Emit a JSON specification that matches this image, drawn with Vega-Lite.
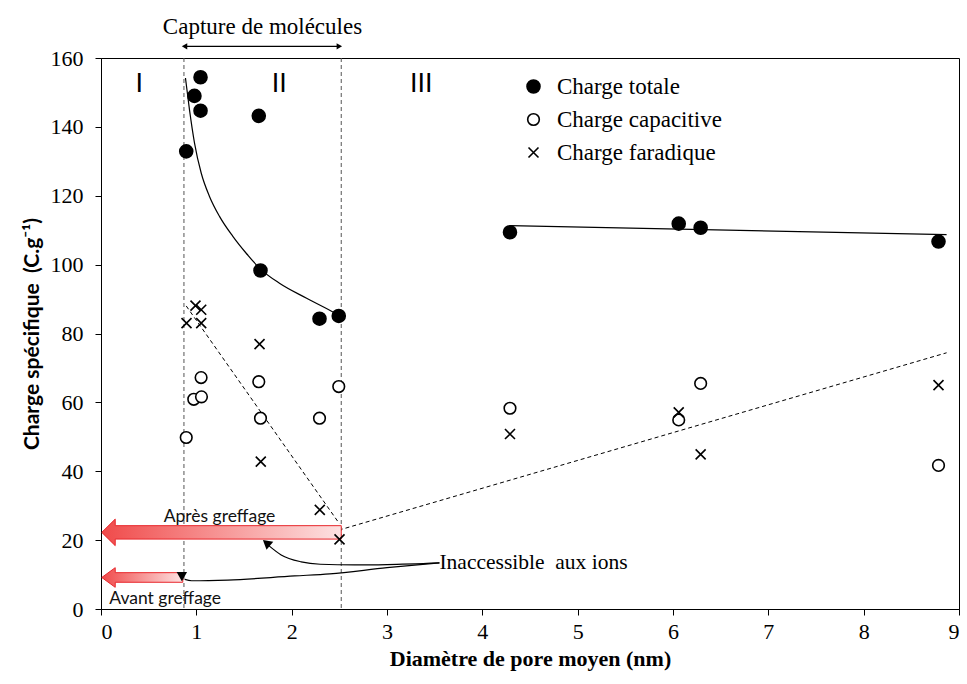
{
  "$schema": "https://vega.github.io/schema/vega-lite/v6.json",
  "width": 858,
  "height": 551,
  "autosize": {"type": "none"},
  "padding": {"left": 101, "top": 58, "right": 8, "bottom": 75},
  "background": "white",
  "config": {
    "view": {"stroke": "black", "strokeWidth": 1},
    "axis": {"grid": false, "domainColor": "black", "tickColor": "black", "labelColor": "black", "titleColor": "black", "tickSize": 6}
  },
  "datasets": {
    "points": [
      {"serie": "Charge totale", "d": 0.894, "q": 132.9},
      {"serie": "Charge totale", "d": 0.98, "q": 149.0},
      {"serie": "Charge totale", "d": 1.044, "q": 154.4},
      {"serie": "Charge totale", "d": 1.044, "q": 144.7},
      {"serie": "Charge totale", "d": 1.655, "q": 143.2},
      {"serie": "Charge totale", "d": 1.673, "q": 98.3},
      {"serie": "Charge totale", "d": 2.292, "q": 84.3},
      {"serie": "Charge totale", "d": 2.494, "q": 85.1},
      {"serie": "Charge totale", "d": 4.29, "q": 109.4},
      {"serie": "Charge totale", "d": 6.06, "q": 111.9},
      {"serie": "Charge totale", "d": 6.29, "q": 110.7},
      {"serie": "Charge totale", "d": 8.785, "q": 106.7},
      {"serie": "Charge capacitive", "d": 1.05, "q": 67.2},
      {"serie": "Charge capacitive", "d": 0.973, "q": 60.9},
      {"serie": "Charge capacitive", "d": 1.054, "q": 61.6},
      {"serie": "Charge capacitive", "d": 0.894, "q": 49.8},
      {"serie": "Charge capacitive", "d": 1.655, "q": 66.0},
      {"serie": "Charge capacitive", "d": 1.673, "q": 55.4},
      {"serie": "Charge capacitive", "d": 2.292, "q": 55.4},
      {"serie": "Charge capacitive", "d": 2.494, "q": 64.6},
      {"serie": "Charge capacitive", "d": 4.29, "q": 58.3},
      {"serie": "Charge capacitive", "d": 6.29, "q": 65.5},
      {"serie": "Charge capacitive", "d": 6.06, "q": 54.9},
      {"serie": "Charge capacitive", "d": 8.785, "q": 41.7},
      {"serie": "Charge faradique", "d": 0.991, "q": 88.1},
      {"serie": "Charge faradique", "d": 1.051, "q": 86.9},
      {"serie": "Charge faradique", "d": 0.897, "q": 83.0},
      {"serie": "Charge faradique", "d": 1.051, "q": 83.0},
      {"serie": "Charge faradique", "d": 1.663, "q": 76.9},
      {"serie": "Charge faradique", "d": 1.676, "q": 42.8},
      {"serie": "Charge faradique", "d": 2.295, "q": 28.8},
      {"serie": "Charge faradique", "d": 2.502, "q": 20.2},
      {"serie": "Charge faradique", "d": 4.29, "q": 50.8},
      {"serie": "Charge faradique", "d": 6.06, "q": 57.1},
      {"serie": "Charge faradique", "d": 6.29, "q": 44.9},
      {"serie": "Charge faradique", "d": 8.785, "q": 65.0}
    ],
    "vlines": [{"d": 0.87}, {"d": 2.52}],
    "solidTrends": [
      {"id": "c2", "d": 0.886, "q": 154.2},
      {"id": "c2", "d": 0.928, "q": 145.0},
      {"id": "c2", "d": 0.981, "q": 135.3},
      {"id": "c2", "d": 1.051, "q": 126.6},
      {"id": "c2", "d": 1.138, "q": 119.8},
      {"id": "c2", "d": 1.243, "q": 114.0},
      {"id": "c2", "d": 1.383, "q": 108.2},
      {"id": "c2", "d": 1.523, "q": 103.3},
      {"id": "c2", "d": 1.673, "q": 98.7},
      {"id": "c2", "d": 1.872, "q": 94.6},
      {"id": "c2", "d": 2.152, "q": 90.3},
      {"id": "c2", "d": 2.449, "q": 86.0},
      {"id": "c2", "d": 2.494, "q": 85.3},
      {"id": "c3", "d": 4.29, "q": 111.3},
      {"id": "c3", "d": 8.87, "q": 108.7}
    ],
    "dashedTrends": [
      {"id": "f2", "d": 0.894, "q": 88.0},
      {"id": "f2", "d": 2.5, "q": 24.8},
      {"id": "f3", "d": 2.494, "q": 22.9},
      {"id": "f3", "d": 8.87, "q": 74.4}
    ],
    "redArrows": [
      {"a": "apres", "d": 0.008, "lo": 22.25, "hi": 22.25},
      {"a": "apres", "d": 0.149, "lo": 18.4, "hi": 26.1},
      {"a": "apres", "d": 0.1495, "lo": 20.3, "hi": 24.2},
      {"a": "apres", "d": 2.52, "lo": 20.3, "hi": 24.2},
      {"a": "avant", "d": 0.008, "lo": 9.15, "hi": 9.15},
      {"a": "avant", "d": 0.149, "lo": 6.3, "hi": 12.0},
      {"a": "avant", "d": 0.1495, "lo": 7.76, "hi": 10.55},
      {"a": "avant", "d": 0.858, "lo": 7.76, "hi": 10.55}
    ],
    "blackArrows": [
      {"a": "k1", "d": 3.55, "q": 13.4},
      {"a": "k1", "d": 3.0, "q": 12.9},
      {"a": "k1", "d": 2.66, "q": 12.8},
      {"a": "k1", "d": 2.3, "q": 13.0},
      {"a": "k1", "d": 2.1, "q": 13.7},
      {"a": "k1", "d": 1.89, "q": 15.7},
      {"a": "k1", "d": 1.76, "q": 18.4},
      {"a": "k2", "d": 3.55, "q": 13.4},
      {"a": "k2", "d": 3.0, "q": 12.0},
      {"a": "k2", "d": 2.4, "q": 10.2},
      {"a": "k2", "d": 2.03, "q": 9.6},
      {"a": "k2", "d": 1.33, "q": 8.4},
      {"a": "k2", "d": 0.95, "q": 8.2},
      {"a": "k2", "d": 0.88, "q": 8.6}
    ],
    "heads": [
      {"a": "k1", "d": 1.735, "q": 19.2},
      {"a": "k2", "d": 0.848, "q": 9.4}
    ],
    "capture": [{"d": 0.876, "d2": 2.5, "q": 163.4, "label": "Capture de molécules", "dc": 1.694, "qt": 169.1}],
    "regions": [
      {"label": "I", "d": 0.4, "q": 152.5},
      {"label": "II", "d": 1.87, "q": 152.5},
      {"label": "III", "d": 3.36, "q": 152.5}
    ],
    "notesSans": [
      {"label": "Après greffage", "d": 1.243, "q": 26.8},
      {"label": "Avant greffage", "d": 0.673, "q": 2.9}
    ],
    "notesSerif": [
      {"label": "Inaccessible\u00a0 aux ions", "d": 3.55, "q": 13.4}
    ]
  },
  "encoding": {
    "x": {"field": "d", "type": "quantitative", "scale": {"domain": [0, 9], "nice": false, "padding": 0},
      "axis": {"values": [0,1,2,3,4,5,6,7,8,9], "format": "d", "title": "Diamètre de pore moyen (nm)",
        "labelFont": "Times New Roman", "labelFontSize": 22, "labelPadding": 6,
        "titleFont": "Times New Roman", "titleFontSize": 22, "titleFontWeight": "bold", "titlePadding": 6}},
    "y": {"field": "q", "type": "quantitative", "scale": {"domain": [0, 160], "nice": false, "padding": 0},
      "axis": {"values": [0,20,40,60,80,100,120,140,160], "format": "d", "title": "Charge spécifique\u00a0 (C.g⁻¹)",
        "labelFont": "serif", "labelFontSize": 22, "labelPadding": 12,
        "titleFont": "Lato", "titleFontSize": 21, "titleFontWeight": "bold", "titlePadding": 8}}
  },
  "layer": [
    {
      "data": {"name": "vlines"},
      "mark": {"type": "rule", "strokeDash": [4, 3], "color": "#555555", "strokeWidth": 1},
      "encoding": {
        "y": {"value": 0},
        "y2": {"value": 551}
      }
    },
    {
      "data": {"name": "solidTrends"},
      "mark": {"type": "line", "color": "black", "strokeWidth": 1.2, "interpolate": "monotone"},
      "encoding": {"detail": {"field": "id"}}
    },
    {
      "data": {"name": "dashedTrends"},
      "mark": {"type": "line", "color": "black", "strokeWidth": 1, "strokeDash": [4, 3]},
      "encoding": {"detail": {"field": "id"}}
    },
    {
      "data": {"name": "redArrows"},
      "mark": {"type": "area", "orient": "vertical", "stroke": "#e8262b", "strokeWidth": 1,
        "fill": {"gradient": "linear", "x1": 0, "y1": 0, "x2": 1, "y2": 0,
          "stops": [{"offset": 0, "color": "#f04a4a"}, {"offset": 1, "color": "#fde2e2"}]}},
      "encoding": {
        "y": {"field": "lo", "type": "quantitative"},
        "y2": {"field": "hi"},
        "detail": {"field": "a"}
      }
    },
    {
      "data": {"name": "blackArrows"},
      "mark": {"type": "line", "color": "black", "strokeWidth": 1.2, "interpolate": "monotone"},
      "encoding": {"detail": {"field": "a"}}
    },
    {
      "data": {"name": "heads"},
      "transform": [{"filter": "datum.a == 'k1'"}],
      "mark": {"type": "point", "shape": "triangle-up", "filled": true, "color": "black", "size": 110, "angle": 310, "opacity": 1},
      "encoding": {}
    },
    {
      "data": {"name": "heads"},
      "transform": [{"filter": "datum.a == 'k2'"}],
      "mark": {"type": "point", "shape": "triangle-down", "filled": true, "color": "black", "size": 110, "opacity": 1},
      "encoding": {}
    },
    {
      "data": {"name": "capture"},
      "mark": {"type": "rule", "color": "black", "strokeWidth": 1.2},
      "encoding": {"x2": {"field": "d2"}}
    },
    {
      "data": {"name": "capture"},
      "mark": {"type": "point", "shape": "triangle-left", "filled": true, "color": "black", "size": 40, "opacity": 1},
      "encoding": {}
    },
    {
      "data": {"name": "capture"},
      "mark": {"type": "point", "shape": "triangle-right", "filled": true, "color": "black", "size": 40, "opacity": 1},
      "encoding": {"x": {"field": "d2", "type": "quantitative"}}
    },
    {
      "data": {"name": "capture"},
      "mark": {"type": "text", "font": "Liberation Serif", "fontSize": 23, "color": "black", "align": "center", "baseline": "middle"},
      "encoding": {
        "x": {"field": "dc", "type": "quantitative"},
        "y": {"field": "qt", "type": "quantitative"},
        "text": {"field": "label"}
      }
    },
    {
      "data": {"name": "regions"},
      "mark": {"type": "text", "font": "Liberation Sans", "fontSize": 27, "color": "black", "align": "center", "baseline": "middle"},
      "encoding": {"text": {"field": "label"}}
    },
    {
      "data": {"name": "notesSans"},
      "mark": {"type": "text", "font": "Lato", "fontSize": 17.5, "color": "#111111", "align": "center", "baseline": "middle"},
      "encoding": {"text": {"field": "label"}}
    },
    {
      "data": {"name": "notesSerif"},
      "mark": {"type": "text", "font": "Liberation Serif", "fontSize": 21.5, "color": "black", "align": "left", "baseline": "middle"},
      "encoding": {"text": {"field": "label"}}
    },
    {
      "data": {"name": "points"},
      "mark": {"type": "point", "stroke": "black", "strokeWidth": 1.6, "opacity": 1},
      "encoding": {
        "shape": {"field": "serie", "type": "nominal",
          "scale": {"domain": ["Charge totale", "Charge capacitive", "Charge faradique"], "range": ["circle", "circle", "M -1 -1 L 1 1 M -1 1 L 1 -1"]},
          "legend": {"title": null, "orient": "none", "legendX": 421, "legendY": 17, "labelFont": "Liberation Serif", "labelFontSize": 23, "labelColor": "black", "labelLimit": 400, "rowPadding": 9, "labelOffset": 12, "symbolStrokeWidth": 1.6}},
        "fill": {"field": "serie", "type": "nominal",
          "scale": {"domain": ["Charge totale", "Charge capacitive", "Charge faradique"], "range": ["black", "white", "black"]}},
        "size": {"field": "serie", "type": "nominal",
          "scale": {"domain": ["Charge totale", "Charge capacitive", "Charge faradique"], "range": [169, 100, 72]}}
      }
    }
  ]
}
